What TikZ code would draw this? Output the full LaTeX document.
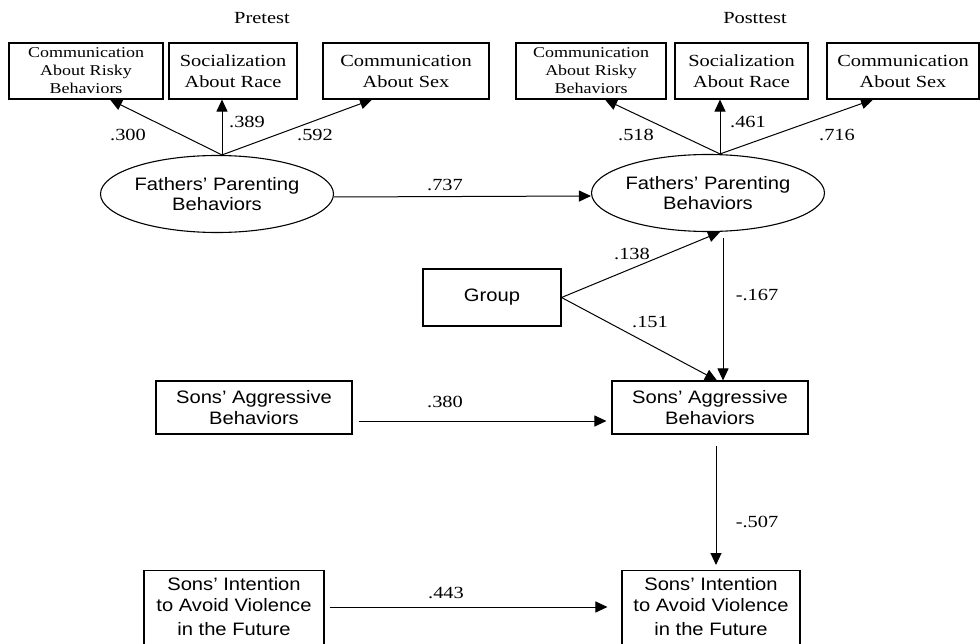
\documentclass[tikz,border=0pt]{standalone}
\usepackage{fontspec}
\setmainfont[FakeStretch=1.2]{Liberation Serif}
\newfontfamily\sansf[FakeStretch=1.12]{Liberation Sans}
\usetikzlibrary{arrows.meta,shapes.geometric}
\newcommand\fsA{\fontsize{17pt}{21pt}\selectfont}
\newcommand\fsB{\fontsize{15pt}{18pt}\selectfont}
\newcommand\fsS{\sansf\fontsize{18pt}{20.5pt}\selectfont}
\tikzset{
  box/.style={draw, rectangle, line width=1.1pt, inner sep=0pt, align=center},
  sbox/.style={box, font=\fsS},
  tbox/.style={box, font=\fsA},
  tboxs/.style={box, font=\fsB},
  lat/.style={draw, ellipse, line width=1.1pt, inner sep=0pt, align=center, font=\fsS},
  lbl/.style={font=\fsA, inner sep=0pt},
  arr/.style={line width=1pt, -{Triangle[length=12pt,width=11pt]}},
}
\begin{document}
\begin{tikzpicture}[x=1pt,y=-1pt]
\useasboundingbox (0,0) rectangle (980,644);
\clip (0,0) rectangle (980,644);

% titles
\node[lbl] (pre) at (262,18) {Pretest};
\node[lbl] (post) at (755,18) {Posttest};

% pretest indicators
\node[tboxs, minimum width=154pt, minimum height=56pt] (b1) at (86,71) {Communication\\About Risky\\Behaviors};
\node[tbox, minimum width=128pt, minimum height=56pt] (b2) at (233,71) {Socialization\\About Race};
\node[tbox, minimum width=166pt, minimum height=56pt] (b3) at (406,71) {Communication\\About Sex};

% posttest indicators
\node[tboxs, minimum width=150pt, minimum height=56pt] (b4) at (591,71) {Communication\\About Risky\\Behaviors};
\node[tbox, minimum width=133pt, minimum height=56pt] (b5) at (741.5,71) {Socialization\\About Race};
\node[tbox, minimum width=152pt, minimum height=56pt] (b6) at (903,71) {Communication\\About Sex};

% latent variables
\node[lat, minimum width=233pt, minimum height=77pt] (e1) at (217,194) {Fathers’ Parenting\\Behaviors};
\node[lat, minimum width=230pt, minimum height=77pt] (e2) at (708,193) {Fathers’ Parenting\\Behaviors};

% other boxes
\node[sbox, minimum width=138pt, minimum height=57pt] (grp) at (492,297.5) {Group};
\node[sbox, minimum width=196pt, minimum height=53pt] (sal) at (254,407.5) {Sons’ Aggressive\\Behaviors};
\node[sbox, minimum width=196pt, minimum height=53pt] (sag) at (710,407.5) {Sons’ Aggressive\\Behaviors};
\node[sbox, minimum width=180pt, inner ysep=7pt, text depth=60pt, anchor=north] (int1) at (234,570) {Sons’ Intention\\to Avoid Violence\\[4pt]in the Future};
\node[sbox, minimum width=178pt, inner ysep=7pt, text depth=60pt, anchor=north] (int2) at (711,570) {Sons’ Intention\\to Avoid Violence\\[4pt]in the Future};

% fan arrows
\coordinate (f1) at ([xshift=5pt]e1.north);
\coordinate (f2) at ([xshift=12pt]e2.north);
\draw[arr] (f1) -- ([xshift=24pt]b1.south);
\draw[arr] (f1) -- ([xshift=-11pt]b2.south);
\draw[arr] (f1) -- ([xshift=-34pt]b3.south);
\draw[arr] (f2) -- ([xshift=14pt]b4.south);
\draw[arr] (f2) -- ([xshift=-21.5pt]b5.south);
\draw[arr] (f2) -- ([xshift=-30pt]b6.south);

% structural arrows
\draw[arr] ([yshift=-3pt]e1.east) -- ([yshift=-3pt]e2.west);
\draw[arr] (grp.east) -- ([xshift=12pt]e2.south);
\draw[arr] (grp.east) -- ([xshift=7pt]sag.north);
\draw[arr, shorten <=6pt] ([xshift=15pt]e2.south) -- ([xshift=15pt]e2.south |- sag.north);
\draw[arr, shorten <=6pt, shorten >=5pt] ([yshift=-13.5pt]sal.east) -- ([yshift=-13.5pt]sag.west);
\draw[arr, shorten <=11pt, shorten >=5pt] ([xshift=6pt]sag.south) -- ([xshift=6pt]sag.south |- int2.north);
\draw[arr, shorten <=5pt, shorten >=14pt] ([yshift=-37pt]int1.north east) -- ([yshift=-37pt]int2.north west);

% coefficient labels
\node[lbl] (l300) at (128,135) {.300};
\node[lbl] (l389) at (247,122) {.389};
\node[lbl] (l592) at (315,135) {.592};
\node[lbl] (l518) at (636,135) {.518};
\node[lbl] (l461) at (748,122) {.461};
\node[lbl] (l716) at (837,135) {.716};
\node[lbl] (l737) at (445,185) {.737};
\node[lbl] (l138) at (632,254) {.138};
\node[lbl] (l151) at (650,322) {.151};
\node[lbl] (l167) at (757,295) {-.167};
\node[lbl] (l380) at (445,402) {.380};
\node[lbl] (l507) at (757,522) {-.507};
\node[lbl] (l443) at (446,593) {.443};
\end{tikzpicture}
\end{document}
